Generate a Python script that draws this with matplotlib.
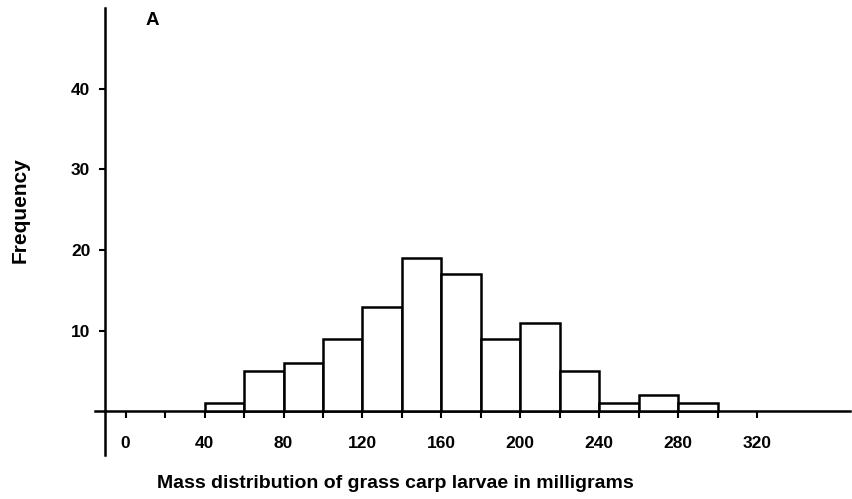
import matplotlib.pyplot as plt
import numpy as np

plt.rcParams['font.family'] = ['Liberation Sans', 'DejaVu Sans']
plt.rcParams['font.weight'] = 'bold'

# histogram of larval mass (bin left edges in mg, width 20)
bin_left = [40, 60, 80, 100, 120, 140, 160, 180, 200, 220, 240, 260, 280]
counts = [1, 5, 6, 9, 13, 19, 17, 9, 11, 5, 1, 2, 1]
bin_width = 20

xticks_minor = list(range(0, 321, 20))
xticks_major = list(range(0, 321, 40))
yticks = [10, 20, 30, 40]

fig = plt.figure(figsize=(8.53, 4.99), dpi=100)
ax = fig.add_axes([0.1114, 0.0882, 0.885, 0.8958])

ax.bar(bin_left, counts, width=bin_width, align='edge',
       facecolor='white', edgecolor='black', linewidth=1.8, zorder=3)

ax.set_xlim(-15.5, 367)
ax.set_ylim(-5.4, 50)

for s in ['top', 'right']:
    ax.spines[s].set_visible(False)
ax.spines['left'].set_position(('data', -10.5))
ax.spines['bottom'].set_position(('data', 0))
ax.spines['left'].set_linewidth(1.8)
ax.spines['bottom'].set_linewidth(1.8)

ax.set_xticks(xticks_minor, minor=True)
ax.set_xticks(xticks_major)
ax.set_xticklabels([str(v) for v in xticks_major])
ax.tick_params(axis='x', which='both', direction='out', length=5, width=1.5,
               pad=13, labelsize=12.5)
ax.set_yticks(yticks)
ax.set_yticklabels([str(v) for v in yticks])
ax.tick_params(axis='y', direction='out', length=4.5, width=1.5, pad=6,
               labelsize=12.5)

fig.text(0.463, 0.032, 'Mass distribution of grass carp larvae in milligrams',
         ha='center', va='center', fontsize=14, fontweight='bold')
fig.text(0.0234, 0.579, 'Frequency', rotation=90, ha='center', va='center',
         fontsize=15, fontweight='bold')
fig.text(0.179, 0.958, 'A', ha='center', va='center', fontsize=13.5,
         fontweight='bold')

plt.savefig('out.png', dpi=100)
